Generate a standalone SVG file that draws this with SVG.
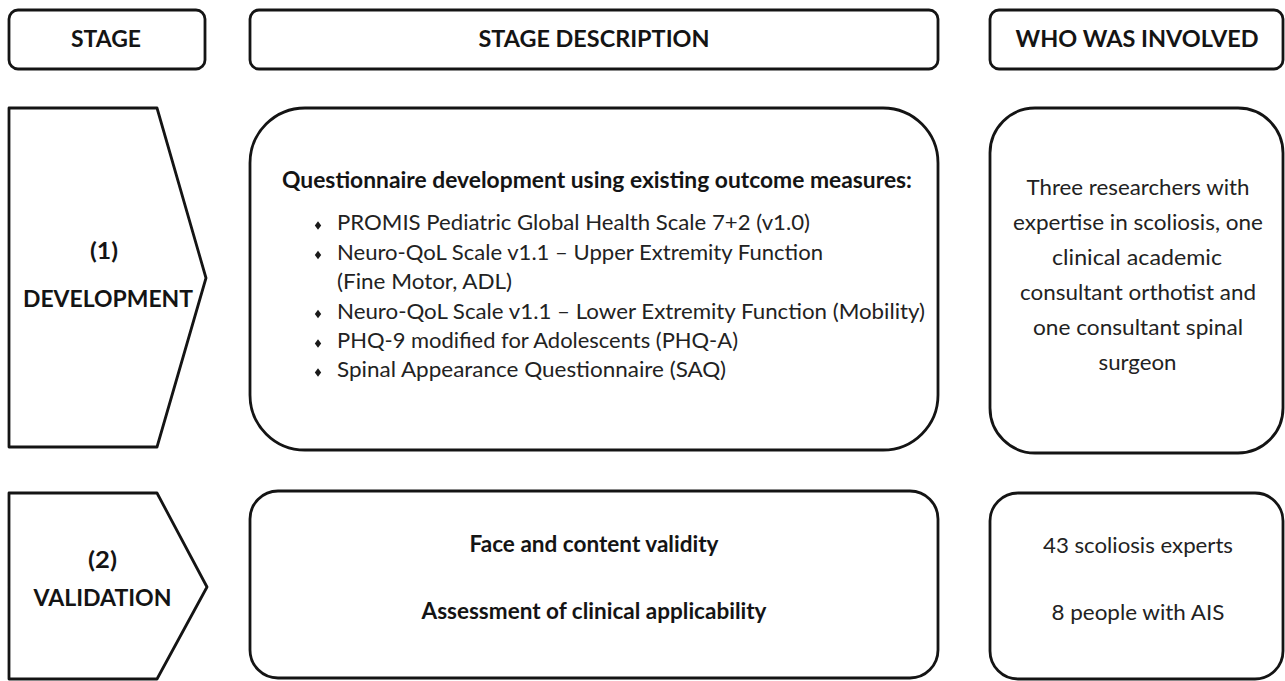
<svg xmlns="http://www.w3.org/2000/svg" xmlns:xlink="http://www.w3.org/1999/xlink" width="1285" height="681" viewBox="0 0 1285 681">
  <style>
    .box{fill:#ffffff;stroke:#141414;stroke-width:2.8;stroke-linejoin:round}
    .lbl{font-family:Lato,"Open Sans","Liberation Sans",sans-serif;font-weight:700;font-size:23.5px;fill:#141414;text-anchor:middle}
    .hd{font-family:Lato,"Open Sans","Liberation Sans",sans-serif;font-weight:700;font-size:22px;fill:#141414}
    .txt{font-family:Lato,"Open Sans","Liberation Sans",sans-serif;font-size:22px;fill:#222222}
    .mid{text-anchor:middle}
    .dot{fill:#1a1a1a}
  </style>
  <defs>
    <path id="bullet" d="M0,-4.3 L3.2,0 L0,4.3 L-3.2,0 Z"/>
  </defs>
  <rect width="1285" height="681" fill="#ffffff"/>

  <!-- column headers -->
  <g id="hdr-stage">
    <rect class="box" x="9" y="10" width="196" height="59" rx="9"/>
    <text class="lbl" x="106" y="46.5" textLength="70" lengthAdjust="spacingAndGlyphs">STAGE</text>
  </g>
  <g id="hdr-description">
    <rect class="box" x="250" y="10" width="688" height="59" rx="9"/>
    <text class="lbl" x="594" y="46.5" textLength="231" lengthAdjust="spacingAndGlyphs">STAGE DESCRIPTION</text>
  </g>
  <g id="hdr-who">
    <rect class="box" x="990" y="10" width="293" height="59" rx="9"/>
    <text class="lbl" x="1137" y="46.5" textLength="243" lengthAdjust="spacingAndGlyphs">WHO WAS INVOLVED</text>
  </g>

  <!-- stage 1 -->
  <g id="stage-development">
    <polygon class="box" points="9,108 157,108 206,278 157,447 9,447"/>
    <text class="lbl" x="104" y="259" textLength="28" lengthAdjust="spacingAndGlyphs">(1)</text>
    <text class="lbl" x="108" y="307" textLength="170" lengthAdjust="spacingAndGlyphs">DEVELOPMENT</text>
  </g>
  <g id="desc-development">
    <rect class="box" x="250" y="108" width="688" height="342" rx="55"/>
    <text class="hd" x="282" y="188" textLength="630" lengthAdjust="spacingAndGlyphs">Questionnaire development using existing outcome measures:</text>
    <g class="dot">
      <use xlink:href="#bullet" x="318" y="225.5"/>
      <use xlink:href="#bullet" x="318" y="255"/>
      <use xlink:href="#bullet" x="318" y="314"/>
      <use xlink:href="#bullet" x="318" y="343.5"/>
      <use xlink:href="#bullet" x="318" y="372.5"/>
    </g>
    <text class="txt" x="337" y="230" textLength="473" lengthAdjust="spacingAndGlyphs">PROMIS Pediatric Global Health Scale 7+2 (v1.0)</text>
    <text class="txt" x="337" y="259.5" textLength="486" lengthAdjust="spacingAndGlyphs">Neuro-QoL Scale v1.1 – Upper Extremity Function</text>
    <text class="txt" x="337" y="289" textLength="175" lengthAdjust="spacingAndGlyphs">(Fine Motor, ADL)</text>
    <text class="txt" x="337" y="318.5" textLength="588" lengthAdjust="spacingAndGlyphs">Neuro-QoL Scale v1.1 – Lower Extremity Function (Mobility)</text>
    <text class="txt" x="337" y="348" textLength="401" lengthAdjust="spacingAndGlyphs">PHQ-9 modified for Adolescents (PHQ-A)</text>
    <text class="txt" x="337" y="377" textLength="389" lengthAdjust="spacingAndGlyphs">Spinal Appearance Questionnaire (SAQ)</text>
  </g>
  <g id="who-development">
    <rect class="box" x="990" y="108" width="293" height="345" rx="45"/>
    <text class="txt mid" x="1138" y="195" textLength="223" lengthAdjust="spacingAndGlyphs">Three researchers with</text>
    <text class="txt mid" x="1138" y="230" textLength="250" lengthAdjust="spacingAndGlyphs">expertise in scoliosis, one</text>
    <text class="txt mid" x="1137" y="265" textLength="170" lengthAdjust="spacingAndGlyphs">clinical academic</text>
    <text class="txt mid" x="1138" y="300" textLength="236" lengthAdjust="spacingAndGlyphs">consultant orthotist and</text>
    <text class="txt mid" x="1138" y="335" textLength="210" lengthAdjust="spacingAndGlyphs">one consultant spinal</text>
    <text class="txt mid" x="1137.5" y="370" textLength="78" lengthAdjust="spacingAndGlyphs">surgeon</text>
  </g>

  <!-- stage 2 -->
  <g id="stage-validation">
    <polygon class="box" points="9,493 157,493 207,587 157,679 9,679"/>
    <text class="lbl" x="102.5" y="568" textLength="29" lengthAdjust="spacingAndGlyphs">(2)</text>
    <text class="lbl" x="102.5" y="606" textLength="138" lengthAdjust="spacingAndGlyphs">VALIDATION</text>
  </g>
  <g id="desc-validation">
    <rect class="box" x="250" y="491" width="688" height="187" rx="28"/>
    <text class="hd mid" x="594" y="552" textLength="249" lengthAdjust="spacingAndGlyphs">Face and content validity</text>
    <text class="hd mid" x="594" y="619" textLength="345" lengthAdjust="spacingAndGlyphs">Assessment of clinical applicability</text>
  </g>
  <g id="who-validation">
    <rect class="box" x="990" y="493" width="293" height="186" rx="28"/>
    <text class="txt mid" x="1138" y="553" textLength="190" lengthAdjust="spacingAndGlyphs">43 scoliosis experts</text>
    <text class="txt mid" x="1138" y="620" textLength="173" lengthAdjust="spacingAndGlyphs">8 people with AIS</text>
  </g>

  <g id="connectors"></g>
</svg>
